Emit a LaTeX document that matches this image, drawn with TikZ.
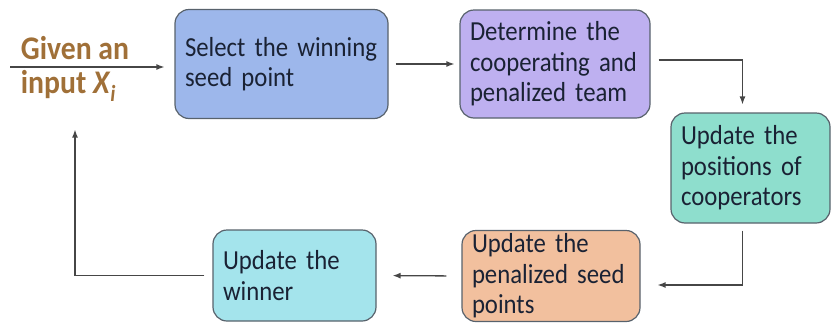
\documentclass[tikz,border=0pt]{standalone}
\usepackage{fontspec}
\setmainfont{Carlito}[FakeStretch=0.9]
\usetikzlibrary{arrows.meta}

\definecolor{seedblue}{RGB}{157,183,235}
\definecolor{teamlilac}{RGB}{190,176,240}
\definecolor{coopgreen}{RGB}{142,222,205}
\definecolor{penpeach}{RGB}{242,192,158}
\definecolor{wincyan}{RGB}{164,228,236}
\definecolor{edgegray}{RGB}{88,98,108}
\definecolor{inkdark}{RGB}{26,34,52}
\definecolor{givenbrown}{RGB}{160,112,56}
\definecolor{linegray}{RGB}{70,70,70}

\begin{document}
\begin{tikzpicture}[x=1pt,y=-1pt,
    box/.style={draw=edgegray, line width=1.2pt, rounded corners=14pt, align=left,
        inner xsep=10pt, inner ysep=0pt, text=inkdark, font=\fontsize{27.5}{30.5}\selectfont},
    link/.style={draw=linegray, line width=1.3pt, -{Latex[length=8pt,width=6pt]}}]

\useasboundingbox (0,0) rectangle (831,322);

\node [text=givenbrown, align=left, inner sep=0pt, font=\bfseries\fontsize{33}{34}\selectfont]
    (given) at (75,69) {Given an\\input \textit{X}\textsubscript{\textit{i}}};

\node [box, fill=seedblue, text width=193pt, minimum height=109pt] (select) at (281.5,64) {Select the winning\\seed point};
\node [box, fill=teamlilac, text width=170pt, minimum height=108pt] (team) at (555,64) {Determine the\\cooperating and\\penalized team};
\node [box, fill=coopgreen, text width=139pt, minimum height=110pt] (coop) at (750.5,168) {Update the\\positions of\\cooperators};
\node [box, fill=penpeach, text width=158pt, minimum height=91pt] (penal) at (551,276) {Update the\\penalized seed\\points};
\node [box, fill=wincyan, text width=143pt, minimum height=91pt] (winner) at (294.5,275.5) {Update the\\winner};

\coordinate (start) at (10,67); % free end of the input line

\draw[link, shorten >=10pt] (start) -- (start -| select.west);
\draw[link, shorten <=7pt, shorten >=5pt] (select.east) -- (team.west);
\draw[link, shorten <=8pt, shorten >=8pt] ([yshift=4pt]team.east) -| ([xshift=-8pt]coop.north);
\draw[link, shorten <=7pt, shorten >=17pt] ([xshift=-8pt]coop.south) |- ([yshift=-9pt]penal.east);
\draw[link, shorten <=15pt, shorten >=16pt] (penal.west) -- (winner.east);
\draw[link, shorten <=8pt, shorten >=28pt] (winner.west) -| (given.south); % back to the input

\end{tikzpicture}
\end{document}
